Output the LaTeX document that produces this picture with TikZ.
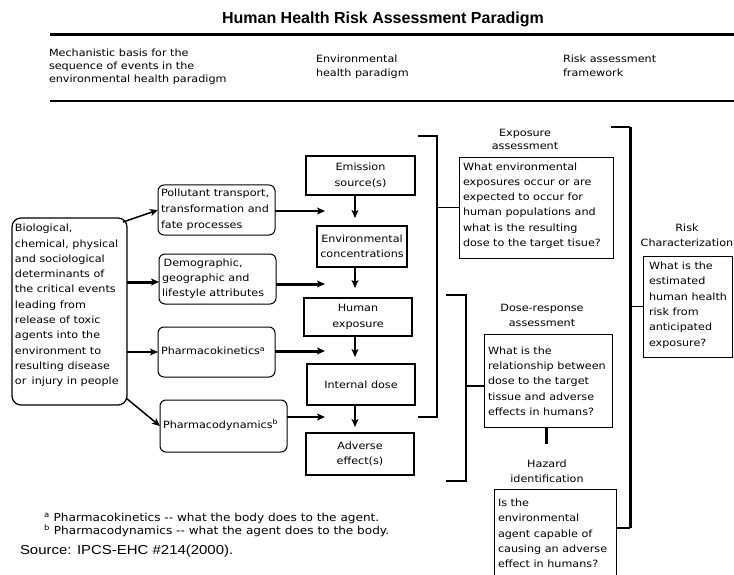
\documentclass[tikz,border=0pt]{standalone}
\usepackage{fontspec}
\setmainfont{DejaVu Sans}[FakeStretch=1.12]
\newfontfamily\notefont{DejaVu Sans}[FakeStretch=1.1]
\newfontfamily\arialfont{Liberation Sans}
\newfontfamily\srcfont{Liberation Sans}[FakeStretch=1.15]
\usetikzlibrary{arrows.meta}
\begin{document}
\begin{tikzpicture}[x=1pt,y=-1pt,
  every node/.style={inner sep=0pt, outer sep=0pt},
  txt/.style={font=\fontsize{10}{15.3}\selectfont, align=left},
  ctr/.style={font=\fontsize{10}{15.3}\selectfont, align=center},
  rbox/.style={draw, rounded corners=6pt, line width=1pt, anchor=north west},
  cbox/.style={draw, line width=2pt, ctr, anchor=north west},
  qbox/.style={draw, line width=0.9pt, anchor=north west},
  arr/.style={-{Stealth[length=8pt,width=7pt,inset=2pt]}},
  brk/.style={line width=1.5pt},
  hdr/.style={align=left, anchor=west},
  lbl/.style={font=\fontsize{10}{15}\selectfont, align=center},
]
\clip (0,0) rectangle (734,575);
\fill[white] (0,0) rectangle (734,575);

% title and header
\node[font=\arialfont\bfseries\fontsize{16}{19}\selectfont, anchor=base] (title) at (383,24) {Human Health Risk Assessment Paradigm};
\draw[line width=2.5pt] (50,34.5) -- (734,34.5);
\draw[line width=2.5pt] (50,101) -- (734,101);
\node[hdr, font=\fontsize{10}{13}\selectfont] (h1t) at (49,67) {Mechanistic basis for the\\sequence of events in the\\environmental health paradigm};
\node[hdr, font=\fontsize{10}{14}\selectfont] (h2t) at (316,66.5) {Environmental\\health paradigm};
\node[hdr, font=\fontsize{10}{14}\selectfont] (h3t) at (563,66) {Risk assessment\\framework};

% left big box
\node[draw, rounded corners=9pt, line width=1.2pt, anchor=north west, minimum width=115pt, minimum height=187pt] (lbox) at (12,218) {};
\node[txt, anchor=west] (lboxT) at (15,305.5) {Biological,\\chemical, physical\\and sociological\\determinants of\\the critical events\\leading from\\release of toxic\\agents into the\\environment to\\resulting disease\\or\, injury in people};

% mechanism boxes
\node[rbox, minimum width=117pt, minimum height=50pt] (pollut) at (158,185) {};
\node[anchor=west, align=left, font=\fontsize{10}{16}\selectfont] (pollutT) at (161,210) {Pollutant transport,\\transformation and\\fate processes};
\node[rbox, minimum width=117pt, minimum height=50pt] (demog) at (159,254) {};
\node[anchor=west, align=left, font=\fontsize{10}{15}\selectfont] (demogT) at (162,278.5) {\,Demographic,\\geographic and\\lifestyle attributes};
\node[rbox, minimum width=117pt, minimum height=50pt] (pkin) at (158,327) {};
\node[txt, anchor=west] (pkinT) at (161,351) {Pharmacokinetics\textsuperscript{a}};
\node[rbox, minimum width=127pt, minimum height=52pt] (pdyn) at (160,400) {};
\node[txt, anchor=west] (pdynT) at (163,425) {Pharmacodynamics\textsuperscript{b}};

% central chain
\node[cbox, minimum width=109pt, minimum height=39pt] (emis) at (306,156) {Emission\\source(s)};
\node[cbox, minimum width=90pt, minimum height=41pt] (conc) at (317,226) {Environmental\\concentrations};
\node[cbox, minimum width=108pt, minimum height=38pt] (hexp) at (304,298) {Human\\exposure};
\node[cbox, minimum width=108pt, minimum height=41pt] (idose) at (307,364) {Internal dose};
\node[cbox, minimum width=108pt, minimum height=42pt] (adv) at (306,433) {Adverse\\effect(s)};

\coordinate (ax) at (355,0);
\draw[arr, line width=2pt, shorten >=8pt] (emis.south -| ax) -- (conc.north -| ax);
\draw[arr, line width=2pt, shorten >=10pt] (conc.south -| ax) -- (hexp.north -| ax);
\draw[arr, line width=2pt, shorten >=7pt] (hexp.south -| ax) -- (idose.north -| ax);
\draw[arr, line width=2pt, shorten >=6pt] (idose.south -| ax) -- (adv.north -| ax);

% arrows from mechanism boxes into chain
\coordinate (e1) at (325,211);
\coordinate (e2) at (325,284);
\coordinate (e3) at (325,351);
\coordinate (e4) at (325,417);
\draw[arr, line width=2pt] (pollut.east |- e1) -- (e1);
\draw[arr, line width=3pt] (demog.east |- e2) -- (e2);
\draw[arr, line width=3pt] (pkin.east |- e3) -- (e3);
\draw[arr, line width=1.5pt] (pdyn.east |- e4) -- (e4);

% arrows from left box
\coordinate (l2) at (0,282);
\draw[arr, line width=1.5pt] ([shift={(-4,4)}]lbox.north east) -- (pollut.west);
\draw[arr, line width=3pt] (lbox.east |- l2) -- (demog.west |- l2);
\draw[arr, line width=2pt] (lbox.east |- pkin.west) -- (pkin.west);
\draw[arr, line width=1.5pt] ([shift={(-1,-7)}]lbox.south east) -- (pdyn.west);

% risk assessment framework
\node[lbl, font=\fontsize{10}{13}\selectfont] (expL) at (525,139.5) {Exposure\\assessment};
\node[qbox, minimum width=154pt, minimum height=101pt] (expq) at (459,157) {};
\node[txt, anchor=west] (expT) at (463,205.5) {What environmental\\exposures occur or are\\expected to occur for\\human populations and\\what is the resulting\\dose to the target tisue?};

\node[lbl] (doseL) at (542,315.5) {Dose-response\\assessment};
\node[qbox, minimum width=128pt, minimum height=93pt] (doseq) at (484,334) {};
\node[txt, anchor=west] (doseT) at (488,381) {What is the\\relationship between\\dose to the target\\tissue and adverse\\effects in humans?};

\node[lbl] (hazL) at (547,471.5) {Hazard\\identification};
\node[qbox, minimum width=122pt, minimum height=89pt] (hazq) at (494,489) {};
\node[txt, anchor=west] (hazT) at (498,533.5) {Is the\\environmental\\agent capable of\\causing an adverse\\effect in humans?};

\node[lbl] (riskL) at (687,235.5) {Risk\\Characterization};
\node[qbox, minimum width=89pt, minimum height=101pt] (riskq) at (643,256) {};
\node[txt, anchor=west] (riskT) at (649,305) {What is the\\estimated\\human health\\risk from\\anticipated\\exposure?};

% brackets
\coordinate (b1t) at (418,136);
\coordinate (b1b) at (418,417);
\coordinate (b1x) at (437,0);
\draw[brk] (b1t) -- (b1t -| b1x) -- (b1b -| b1x) -- (b1b);
\draw[brk] (expq.west -| b1x) -- (expq.west);

\coordinate (b2t) at (446,295);
\coordinate (b2b) at (446,481);
\coordinate (b2x) at (466,0);
\coordinate (b2m) at (466,386);
\draw[brk] (b2t) -- (b2t -| b2x) -- (b2b -| b2x) -- (b2b);
\draw[brk] (b2m) -- (doseq.west |- b2m);

\coordinate (b3t) at (611,127);
\coordinate (b3x) at (630,0);
\coordinate (b3b) at (630,528);
\draw[brk] (b3t) -- (b3t -| b3x);
\draw[line width=3pt] (b3t -| b3x) -- (b3b);
\draw[brk] (b3b) -- (hazq.east |- b3b);
\draw[brk] (riskq.west -| b3x) -- (riskq.west);

\coordinate (dh) at (546,444);
\draw[line width=3pt] (doseq.south -| dh) -- (dh);

% footnotes
\node[anchor=west, align=left, font=\notefont\fontsize{11}{13}\selectfont] (fn) at (44,524.5) {\textsuperscript{a}\hspace{4pt}Pharmacokinetics -{}- what the body does to the agent.\\\textsuperscript{b}\hspace{4pt}Pharmacodynamics -{}- what the agent does to the body.};
\node[anchor=base west, font=\srcfont\fontsize{13}{15}\selectfont] (src) at (20,554) {Source: IPCS-EHC \#214(2000).};
\end{tikzpicture}
\end{document}
